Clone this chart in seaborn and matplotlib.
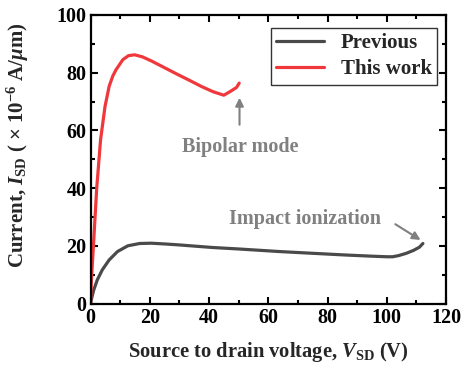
import numpy as np
import pandas as pd
import matplotlib
matplotlib.use("Agg")
import matplotlib.pyplot as plt
import seaborn as sns
from matplotlib.ticker import MultipleLocator

# Data
prev_v = [0, 0.5, 1.1, 2.3, 4.0, 6.3, 9.1, 12.6, 16.6, 20.5, 25.7, 30, 35, 41.4, 50, 63.9, 75, 86.3, 95, 100, 102, 104, 106.6, 109, 111, 112.2]
prev_i = [0, 2.3, 4.7, 8.2, 11.7, 15.1, 18.0, 20.0, 20.8, 20.9, 20.6, 20.3, 19.9, 19.4, 18.9, 18.0, 17.4, 16.8, 16.4, 16.2, 16.2, 16.6, 17.4, 18.4, 19.5, 20.8]
this_v = [0, 0.3, 0.7, 1.1, 2.1, 3.4, 4.9, 6.3, 7.5, 8.6, 10.9, 12.8, 14.9, 17.5, 20.5, 24.5, 29, 33.5, 37.5, 41.4, 45.0, 47.2, 49.3, 50.2]
this_i = [0, 8, 15, 22, 40, 56.8, 68.3, 75.3, 78.8, 81.0, 84.5, 85.9, 86.2, 85.5, 84.1, 82.0, 79.6, 77.3, 75.2, 73.4, 72.2, 73.5, 74.9, 76.4]

sns.set_theme(style="ticks")
plt.rcParams['font.family'] = ['Liberation Serif', 'DejaVu Serif']
plt.rcParams['font.weight'] = 'bold'
plt.rcParams['mathtext.fontset'] = 'custom'
plt.rcParams['mathtext.rm'] = 'Liberation Serif:bold'
plt.rcParams['mathtext.bf'] = 'Liberation Serif:bold'
plt.rcParams['mathtext.it'] = 'Liberation Serif:italic:bold'

df = pd.concat([
    pd.DataFrame({'V': prev_v, 'I': prev_i, 'Series': 'Previous'}),
    pd.DataFrame({'V': this_v, 'I': this_i, 'Series': 'This work'}),
])

fig = plt.figure(figsize=(4.65, 3.74), dpi=100)
ax = fig.add_axes([90.5/465, 1-303.5/374, 355.5/465, 288.5/374])

sns.lineplot(data=df, x='V', y='I', hue='Series', palette={'Previous': '#4a4a4a', 'This work': '#f0383c'},
             linewidth=2.3, ax=ax, sort=False, estimator=None)
for ln in ax.get_lines():
    ln.set_solid_joinstyle('round')
    ln.set_solid_capstyle('round')

ax.set_xlim(0, 120)
ax.set_ylim(0, 100)
ax.xaxis.set_major_locator(MultipleLocator(20))
ax.xaxis.set_minor_locator(MultipleLocator(10))
ax.yaxis.set_major_locator(MultipleLocator(20))
ax.yaxis.set_minor_locator(MultipleLocator(10))
FS = 14.5
ax.tick_params(which='both', direction='in', top=True, right=True, width=1.5, labelsize=FS, colors='black', pad=3)
ax.tick_params(which='major', length=5)
ax.tick_params(which='minor', length=3)
for lab in ax.get_xticklabels() + ax.get_yticklabels():
    lab.set_fontweight('bold')
for s in ax.spines.values():
    s.set_linewidth(1.6)
    s.set_color('black')

ax.set_xlabel(r'Source to drain voltage, $V_{\mathrm{SD}}$ (V)', fontsize=FS + 0.3, fontweight='bold', labelpad=9)
ax.set_ylabel(r'Current, $I_{\mathrm{SD}}$ ( $\times$ 10$^{-6}$ A/$\mu$m)', fontsize=FS + 0.5, fontweight='bold')
ax.yaxis.set_label_coords(-0.168, 0.55)

leg = ax.legend(loc='upper right', fontsize=15, frameon=True, fancybox=False, edgecolor='black',
                handlelength=2.3, borderpad=0.25, labelspacing=0.3, handletextpad=0.8,
                borderaxespad=0.0, bbox_to_anchor=(0.975, 0.955))
leg.get_frame().set_linewidth(1.0)
for t in leg.get_texts():
    t.set_fontweight('bold')

grey = '#808080'
ax.annotate('', xy=(50.3, 72.3), xytext=(50.3, 61),
            arrowprops=dict(arrowstyle='-|>', color=grey, lw=1.5, mutation_scale=12))
ax.text(50.5, 52.6, 'Bipolar mode', color=grey, fontsize=FS, fontweight='bold', ha='center', va='baseline')
ax.text(72.5, 27.5, 'Impact ionization', color=grey, fontsize=FS, fontweight='bold', ha='center', va='baseline')
ax.annotate('', xy=(112.2, 21.5), xytext=(102.1, 28),
            arrowprops=dict(arrowstyle='-|>', color=grey, lw=1.5, mutation_scale=12))

fig.savefig('out.png', dpi=100)
